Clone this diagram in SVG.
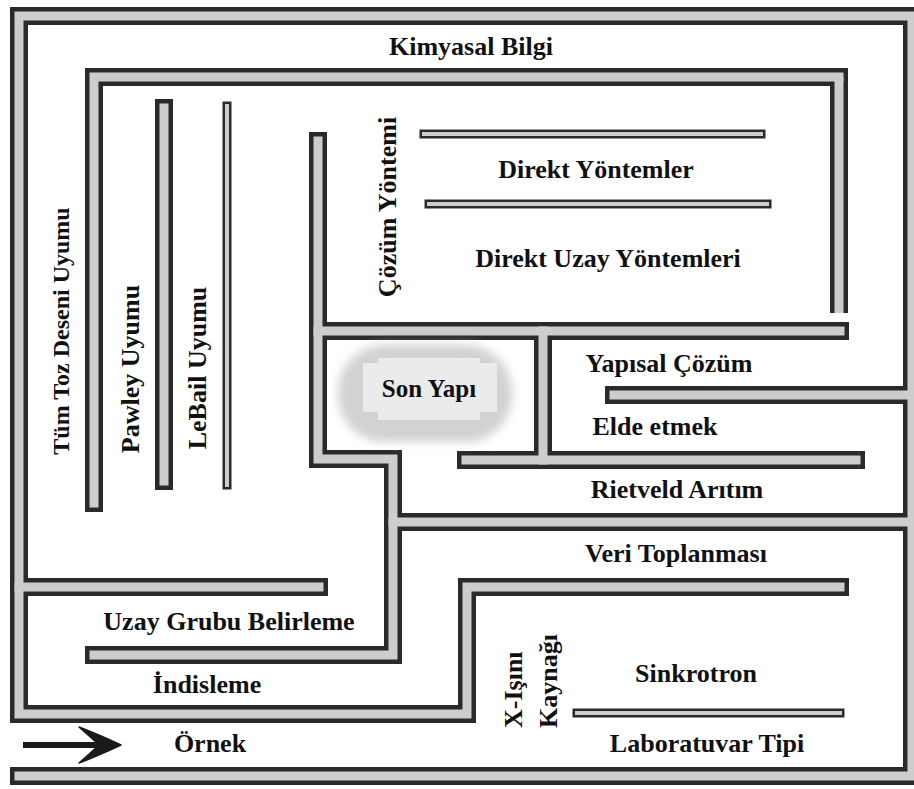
<svg xmlns="http://www.w3.org/2000/svg" width="914" height="789" viewBox="0 0 914 789">
<defs>
<style>
.d{fill:none;stroke:#2a2a2a;stroke-linecap:square;stroke-linejoin:miter}
.l{fill:none;stroke:#cdcdcd;stroke-linecap:square;stroke-linejoin:miter}
.b{stroke-linecap:butt}
.t18.d{stroke-width:18}.t18.l{stroke-width:9}
.t9.d{stroke-width:9}.t9.l{stroke-width:4}
text{font-family:"Liberation Serif","Times New Roman",serif;font-weight:bold;font-size:26px;fill:#111;text-anchor:middle}
</style>
<filter id="blur" x="-30%" y="-50%" width="160%" height="200%"><feGaussianBlur stdDeviation="5"/></filter>
</defs>
<rect width="914" height="789" fill="#ffffff"/>
<g id="walls">
<g id="walls-dark">
<path class="d t18" d="M614 395H912V16H19V714H467V587H840"/>
<path class="d t18" d="M912 395V776H19"/>
<path class="d t18" d="M912 522H393"/>
<path class="d t18" d="M318 141V459H393V655H94"/>
<path class="d t18" d="M94 503V77H839"/>
<path class="d t18 b" d="M839 77V313"/>
<path class="d t18" d="M19 587H319"/>
<path class="d t18" d="M318 331H840"/>
<path class="d t18" d="M543 331V460"/>
<path class="d t18" d="M466 460H856"/>
<path class="d t18" d="M164 108V481"/>
<path class="d t9" d="M227 106V485"/>
<path class="d t9" d="M424 134H761"/>
<path class="d t9" d="M429 204H767"/>
<path class="d t9" d="M577 713H840"/>
</g>
<g id="walls-light">
<path class="l t18" d="M614 395H912V16H19V714H467V587H840"/>
<path class="l t18" d="M912 395V776H19"/>
<path class="l t18" d="M912 522H393"/>
<path class="l t18" d="M318 141V459H393V655H94"/>
<path class="l t18" d="M94 503V77H839"/>
<path class="l t18 b" d="M839 77V313"/>
<path class="l t18" d="M19 587H319"/>
<path class="l t18" d="M318 331H840"/>
<path class="l t18" d="M543 331V460"/>
<path class="l t18" d="M466 460H856"/>
<path class="l t18" d="M164 108V481"/>
<path class="l t9" d="M227 106V485"/>
<path class="l t9" d="M424 134H761"/>
<path class="l t9" d="M429 204H767"/>
<path class="l t9" d="M577 713H840"/>
</g>
</g>
<g id="son-yapi">
<rect x="338" y="345" width="174" height="97" rx="46" fill="#d2d2d2" filter="url(#blur)"/>
<rect x="363" y="363" width="134" height="49" fill="#ebebeb"/>
<rect x="378" y="358" width="102" height="62" fill="#ebebeb"/>
<text x="429" y="397" style="font-size:25px">Son Yapı</text>
</g>
<g id="kimyasal-bilgi"><text x="471" y="55">Kimyasal Bilgi</text></g>
<g id="direkt-yontemler"><text x="596" y="178">Direkt Yöntemler</text></g>
<g id="direkt-uzay"><text x="608" y="267">Direkt Uzay Yöntemleri</text></g>
<g id="cozum-yontemi"><text transform="translate(396 207) rotate(-90)">Çözüm Yöntemi</text></g>
<g id="tum-toz"><text transform="translate(69 331) rotate(-90)" style="font-size:24px">Tüm Toz Deseni Uyumu</text></g>
<g id="pawley"><text transform="translate(139 369) rotate(-90)">Pawley Uyumu</text></g>
<g id="lebail"><text transform="translate(206 368) rotate(-90)">LeBail Uyumu</text></g>
<g id="yapisal-cozum"><text x="669" y="372">Yapısal Çözüm</text></g>
<g id="elde-etmek"><text x="655" y="435">Elde etmek</text></g>
<g id="rietveld"><text x="677" y="498">Rietveld Arıtım</text></g>
<g id="veri-toplanmasi"><text x="676" y="562">Veri Toplanması</text></g>
<g id="uzay-grubu"><text x="229" y="630">Uzay Grubu Belirleme</text></g>
<g id="indisleme"><text x="207" y="693">İndisleme</text></g>
<g id="sinkrotron"><text x="696" y="682">Sinkrotron</text></g>
<g id="laboratuvar"><text x="707" y="752">Laboratuvar Tipi</text></g>
<g id="xisini-kaynagi">
<text transform="translate(522 728) rotate(-90)" style="text-anchor:start">X-Işını</text>
<text transform="translate(557 728) rotate(-90)" style="text-anchor:start">Kaynağı</text>
</g>
<g id="ornek">
<path d="M23 745H110" stroke="#1a1a1a" stroke-width="6" fill="none"/>
<path d="M121 745C106 738 92 732 79 727C88 735 95 741 99 745C95 749 88 755 79 763C92 758 106 752 121 745Z" fill="#1a1a1a" stroke="#1a1a1a" stroke-width="1.5" stroke-linejoin="round"/>
<text x="210" y="752">Örnek</text>
</g>
</svg>
